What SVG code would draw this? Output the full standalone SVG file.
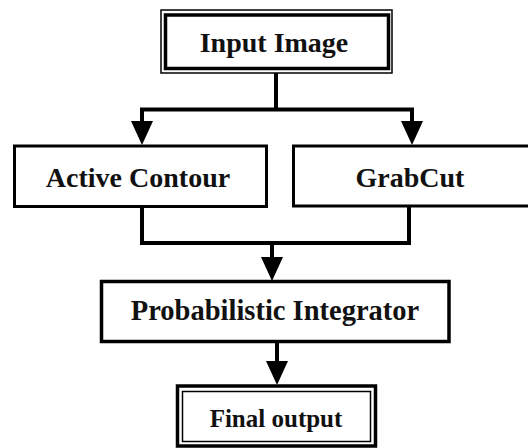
<svg xmlns="http://www.w3.org/2000/svg" width="528" height="448" viewBox="0 0 528 448">
<style>
.box{fill:#fff;stroke:#000;stroke-width:3}
.thin{fill:none;stroke:#000;stroke-width:1.5}
.thick{fill:none;stroke:#000;stroke-width:3.5}
.lbl{font-family:"Liberation Serif","Times New Roman",serif;font-weight:bold;fill:#111;text-anchor:middle}
.con{fill:none;stroke:#000;stroke-width:4}
</style>
<defs>
<marker id="ah" viewBox="0 0 24 22" refX="13" refY="11" markerWidth="24" markerHeight="22" markerUnits="userSpaceOnUse" orient="auto">
<path d="M0,0 L24,11 L0,22 z" fill="#000"/>
</marker>
</defs>
<rect width="528" height="448" fill="#fff"/>
<g id="connectors">
<path class="con" d="M276,73 V109.5"/>
<path class="con" d="M140,109.5 H414"/>
<path class="con" d="M142,109.5 V134" marker-end="url(#ah)"/>
<path class="con" d="M412,109.5 V134" marker-end="url(#ah)"/>
<path class="con" d="M142,207 V243 H409 V207"/>
<path class="con" d="M272,243 V270" marker-end="url(#ah)"/>
<path class="con" d="M277,342 V374" marker-end="url(#ah)"/>
</g>
<g id="input-image">
<rect class="thin" x="161" y="10" width="231" height="63" fill="#fff"/>
<rect class="thick" x="165.5" y="15" width="223" height="53.5"/>
<text class="lbl" x="274" y="52" font-size="28">Input Image</text>
</g>
<g id="active-contour">
<rect class="box" x="14.5" y="146" width="252" height="60.5"/>
<text class="lbl" x="138" y="187" font-size="28">Active Contour</text>
</g>
<g id="grabcut">
<rect class="box" x="293.5" y="146" width="250" height="60"/>
<text class="lbl" x="410" y="187" font-size="28">GrabCut</text>
</g>
<g id="probabilistic-integrator">
<rect class="box" x="101.5" y="281.5" width="347.5" height="60" style="stroke-width:3.5"/>
<text class="lbl" x="275" y="320" font-size="28.5">Probabilistic Integrator</text>
</g>
<g id="final-output">
<rect class="thick" x="177.5" y="386" width="198" height="60" fill="#fff"/>
<rect class="thin" x="182.5" y="391.5" width="188" height="50"/>
<text class="lbl" x="276" y="427" font-size="25">Final output</text>
</g>
</svg>
